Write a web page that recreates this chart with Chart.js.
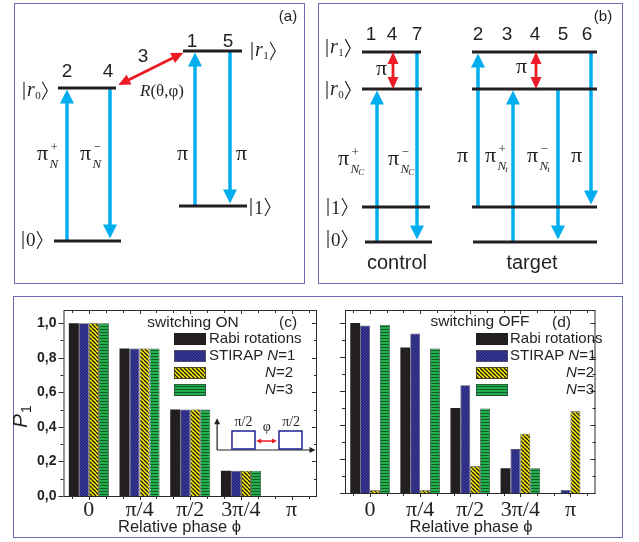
<!DOCTYPE html>
<html><head><meta charset="utf-8">
<script src="https://cdn.jsdelivr.net/npm/chart.js@4.4.0/dist/chart.umd.min.js"></script>
<style>
html,body{margin:0;padding:0;background:#fff;}
#wrap{position:relative;width:639px;height:542px;overflow:hidden;background:#fff;}
canvas{position:absolute;left:0;top:0;}
.box{position:absolute;border:1px solid #6c6cb8;box-sizing:border-box;}
</style></head><body>
<div id="wrap">
<div class="box" style="left:14px;top:3px;width:291px;height:281px"></div>
<div class="box" style="left:318px;top:3px;width:305px;height:281px"></div>
<div class="box" style="left:13px;top:296px;width:610px;height:242px"></div>
<canvas id="ca" width="639" height="542"></canvas>
<canvas id="cb" width="639" height="542"></canvas>
<canvas id="cc" width="639" height="542"></canvas>
<canvas id="cd" width="639" height="542"></canvas>
</div>
<script>
// ================= DATA =================
const phaseLabels = ['0', 'π/4', 'π/2', '3π/4', 'π'];
const seriesNames = ['Rabi rotations', 'STIRAP N=1', 'N=2', 'N=3'];
const yTickValues = [0, 0.2, 0.4, 0.6, 0.8, 1.0];

// (c) switching ON
const onRabi      = [1.00, 0.854, 0.50, 0.146, 0];
const onStirapN1  = [1.00, 0.854, 0.50, 0.146, 0];
const onStirapN2  = [1.00, 0.854, 0.50, 0.146, 0];
const onStirapN3  = [1.00, 0.854, 0.50, 0.146, 0];
// (d) switching OFF
const offRabi     = [1.00, 0.855, 0.50, 0.146, 0];
const offStirapN1 = [0.985, 0.938, 0.634, 0.258, 0.018];
const offStirapN2 = [0.016, 0.016, 0.157, 0.348, 0.48];
const offStirapN3 = [0.99, 0.849, 0.497, 0.146, 0];

// level-scheme "energies"
const E = {g0: 0, g1: 1, r0: 4.37, r1: 5.43};
// (a) levels [x1, x2, energy]
const levelsA = [[44, 102, E.r0], [40, 107, E.g0], [169, 228, E.r1], [165, 233, E.g1]];
const pulsesA = [[53, E.g0, E.r0], [96, E.r0, E.g0], [181, E.g1, E.r1], [216, E.r1, E.g1]];
const rotationA = [[104.3, 4.457, 169.3, 5.38]];
// (b) levels
const levelsB = [[44, 103, E.r1], [44, 104, E.r0], [44, 112, E.g1], [47, 114, E.g0],
                 [154, 279, E.r1], [154, 279, E.r0], [154, 279, E.g1], [155, 279, E.g0]];
const pulsesB = [[59, E.g0, E.r0], [99, E.r1, E.g0], [160, E.g1, E.r1], [195, E.g0, E.r0], [240, E.r0, E.g0], [273, E.r1, E.g1]];
const rotationB = [[75, E.r1, 75, E.r0], [218, E.r1, 218, E.r0]];

// ================= STYLE =================
const INK = '#231f20', CYAN = '#00aeef', RED = '#ed1c24';
const SANS = '"Liberation Sans", Arial, sans-serif';
const SERIF = '"Liberation Serif", "Times New Roman", serif';
Chart.defaults.font.family = SANS;
Chart.defaults.color = INK;

function arrow(ctx, x1, y1, x2, y2, col, w, hl, hw, both) {
  const dx = x2 - x1, dy = y2 - y1, L = Math.hypot(dx, dy), ux = dx / L, uy = dy / L, px = -uy, py = ux;
  const s0 = both ? hl * 0.8 : 0, s1 = L - hl * 0.8;
  ctx.strokeStyle = col; ctx.fillStyle = col; ctx.lineWidth = w; ctx.lineCap = 'butt';
  ctx.beginPath(); ctx.moveTo(x1 + ux * s0, y1 + uy * s0); ctx.lineTo(x1 + ux * s1, y1 + uy * s1); ctx.stroke();
  const head = (tx, ty, vx, vy) => {
    ctx.beginPath(); ctx.moveTo(tx, ty);
    ctx.lineTo(tx - vx * hl + px * hw / 2, ty - vy * hl + py * hw / 2);
    ctx.lineTo(tx - vx * hl - px * hw / 2, ty - vy * hl - py * hw / 2);
    ctx.closePath(); ctx.fill();
  };
  head(x2, y2, ux, uy); if (both) head(x1, y1, -ux, -uy);
}
function drawPi(ctx, x, yc, sup, sub, sub2) {
  ctx.fillStyle = INK; ctx.textAlign = 'left'; ctx.textBaseline = 'alphabetic';
  ctx.font = '22px ' + SERIF; ctx.fillText('π', x, yc + 5);
  const sx = x + ctx.measureText('π').width + 1.5;
  if (sup) { ctx.font = '13px ' + SERIF; ctx.fillText(sup, sx + 1, yc - 4); }
  if (sub) {
    ctx.font = 'italic 13px ' + SERIF; ctx.fillText(sub, sx, yc + 13);
    if (sub2) { const w2 = ctx.measureText(sub).width; ctx.font = 'italic 9px ' + SERIF; ctx.fillText(sub2, sx + w2 - 1, yc + 15); }
  }
}
function drawKet(ctx, x, yc, main, sub) {
  ctx.strokeStyle = INK; ctx.fillStyle = INK; ctx.lineWidth = 1.1; ctx.textAlign = 'left'; ctx.textBaseline = 'alphabetic';
  ctx.beginPath(); ctx.moveTo(x, yc - 9); ctx.lineTo(x, yc + 9); ctx.stroke();
  let cx = x + 3;
  if (sub) {
    ctx.font = 'italic 20px ' + SERIF; ctx.fillText(main, cx, yc + 5); cx += ctx.measureText(main).width + 0.5;
    ctx.font = '11px ' + SERIF; ctx.fillText(sub, cx, yc + 8); cx += ctx.measureText(sub).width + 1.5;
  } else {
    ctx.font = '19px ' + SERIF; ctx.fillText(main, cx, yc + 6.5); cx += ctx.measureText(main).width + 1.5;
  }
  ctx.beginPath(); ctx.moveTo(cx, yc - 9); ctx.lineTo(cx + 5, yc); ctx.lineTo(cx, yc + 9); ctx.stroke();
}
function plainText(ctx, t, x, y, font, align) {
  ctx.fillStyle = INK; ctx.font = font; ctx.textAlign = align || 'center'; ctx.textBaseline = 'middle'; ctx.fillText(t, x, y);
}

// ================= LEVEL SCHEMES =================
function diagram(id, box, yRange, levels, pulses, rots, texts) {
  return new Chart(document.getElementById(id), {
    type: 'scatter',
    data: {datasets: levels.map(l => ({data: [{x: l[0], y: l[2]}, {x: l[1], y: l[2]}], showLine: true,
      borderColor: INK, borderWidth: 3, pointRadius: 0, borderCapStyle: 'butt', clip: false}))},
    options: {
      responsive: false, animation: false, events: [],
      plugins: {legend: {display: false}, tooltip: {enabled: false}},
      layout: {padding: {left: box[0], top: box[1], right: 639 - box[2], bottom: 542 - box[3]}},
      scales: {x: {type: 'linear', display: false, min: 0, max: box[2] - box[0]},
               y: {type: 'linear', display: false, min: yRange[0], max: yRange[1]}}
    },
    plugins: [{
      id: 'scheme',
      beforeDatasetsDraw(chart) {
        const ctx = chart.ctx, X = v => chart.scales.x.getPixelForValue(v), Y = v => chart.scales.y.getPixelForValue(v);
        ctx.save();
        pulses.forEach(p => { const up = p[2] > p[1];
          arrow(ctx, X(p[0]), Y(p[1]), X(p[0]), Y(p[2]) + (up ? 1.5 : -2.5), CYAN, 3.5, 14, 14, false); });
        ctx.restore();
      },
      afterDatasetsDraw(chart) {
        const ctx = chart.ctx, X = v => chart.scales.x.getPixelForValue(v), Y = v => chart.scales.y.getPixelForValue(v);
        ctx.save();
        rots.forEach(r => arrow(ctx, X(r[0]), Y(r[1]), X(r[2]), Y(r[3]), RED, 2.8, 12, 11, true));
        texts(ctx, X, Y);
        ctx.restore();
      }
    }]
  });
}

diagram('ca', [14, 3, 304, 283], [-1.2, 6.8], levelsA, pulsesA, rotationA, (ctx, X, Y) => {
  const nf = '19px ' + SANS;
  [['2', 53, 4.83], ['4', 94, 4.83], ['1', 178, 5.69], ['5', 214, 5.69], ['3', 129, 5.26]]
    .forEach(n => plainText(ctx, n[0], X(n[1]), Y(n[2]), nf));
  plainText(ctx, '(a)', X(274), Y(6.4), '15px ' + SANS);
  drawKet(ctx, X(10), Y(4.29), 'r', '0');
  drawKet(ctx, X(238), Y(5.43), 'r', '1');
  drawKet(ctx, X(9), Y(0.03), '0');
  drawKet(ctx, X(237), Y(0.97), '1');
  drawPi(ctx, X(23), Y(2.46), '+', 'N');
  drawPi(ctx, X(66), Y(2.46), '−', 'N');
  drawPi(ctx, X(163), Y(2.46));
  drawPi(ctx, X(222), Y(2.46));
  ctx.fillStyle = INK; ctx.textAlign = 'left'; ctx.textBaseline = 'alphabetic';
  ctx.font = 'italic 17px ' + SERIF; ctx.fillText('R', X(126), Y(4.31) + 6);
  const w = ctx.measureText('R').width; ctx.font = '17px ' + SERIF; ctx.fillText('(θ,φ)', X(126) + w, Y(4.31) + 6);
});

diagram('cb', [318, 3, 622, 283], [-1.171, 6.829], levelsB, pulsesB, rotationB, (ctx, X, Y) => {
  const nf = '19px ' + SANS;
  [['1', 53], ['4', 74], ['7', 99], ['2', 160], ['3', 189], ['4', 217], ['5', 245], ['6', 269]]
    .forEach(n => plainText(ctx, n[0], X(n[1]), Y(5.91), nf));
  plainText(ctx, '(b)', X(285), Y(6.43), '15px ' + SANS);
  drawKet(ctx, X(9), Y(5.54), 'r', '1');
  drawKet(ctx, X(9), Y(4.34), 'r', '0');
  drawKet(ctx, X(10), Y(1.0), '1');
  drawKet(ctx, X(10), Y(0.086), '0');
  drawPi(ctx, X(58), Y(4.91));
  drawPi(ctx, X(198), Y(4.97));
  drawPi(ctx, X(20), Y(2.34), '+', 'N', 'C');
  drawPi(ctx, X(70), Y(2.34), '−', 'N', 'C');
  drawPi(ctx, X(139), Y(2.43));
  drawPi(ctx, X(167), Y(2.43), '+', 'N', 't');
  drawPi(ctx, X(209), Y(2.43), '−', 'N', 't');
  drawPi(ctx, X(253), Y(2.43));
  plainText(ctx, 'control', X(79), Y(-0.6), '20px ' + SANS);
  plainText(ctx, 'target', X(214), Y(-0.6), '20px ' + SANS);
});

// ================= BAR CHARTS =================
function makePatterns(ctx) {
  function hatch(bg, fg, p, lw, dir) {
    const c = document.createElement('canvas'); c.width = c.height = p;
    const g = c.getContext('2d'); g.fillStyle = bg; g.fillRect(0, 0, p, p);
    g.strokeStyle = fg; g.lineWidth = lw; g.beginPath();
    if (dir === 'h') { g.moveTo(0, p - lw / 2); g.lineTo(p, p - lw / 2); }
    else if (dir === 'f') { for (const o of [-p, 0, p]) { g.moveTo(o, p); g.lineTo(o + p, 0); } }
    else { for (const o of [-p, 0, p]) { g.moveTo(o, 0); g.lineTo(o + p, p); } }
    g.stroke();
    return ctx.createPattern(c, 'repeat');
  }
  return {
    black: '#231f20',
    blue: hatch('#26267a', '#4848a6', 3, 0.9, 'f'),
    yellow: hatch('#f8ea00', '#1a1a1a', 4, 1.3, 'b'),
    green: hatch('#22b04c', '#125a28', 3, 1, 'h')
  };
}

function barChart(id, area, values, cfg) {
  const canvas = document.getElementById(id);
  const pats = makePatterns(canvas.getContext('2d'));
  const fills = [pats.black, pats.blue, pats.yellow, pats.green];
  const borders = ['#231f20', '#555566', '#3a3a20', '#2d4a35'];
  return new Chart(canvas, {
    type: 'bar',
    data: {labels: phaseLabels, datasets: values.map((v, i) => ({
      label: seriesNames[i], data: v, backgroundColor: fills[i], borderColor: borders[i],
      borderWidth: c => (i >= 1 && c.raw > 0) ? 0.8 : 0, borderSkipped: 'start',
      barPercentage: 1.0, categoryPercentage: 0.79}))},
    options: {
      responsive: false, animation: false, events: [],
      plugins: {legend: {display: false}, tooltip: {enabled: false}},
      layout: {padding: {left: 0, top: area.top, right: 639 - area.right, bottom: 0}},
      scales: {
        x: {type: 'category', offset: true, grid: {display: false, drawTicks: false}, border: {display: false},
            ticks: {font: {family: SERIF, size: 22}, color: INK, padding: cfg.xPad, maxRotation: 0, autoSkip: false},
            afterFit: s => { s.height = 542 - area.bottom; }},
        y: {min: 0, max: 1.076, grid: {display: false, drawTicks: false}, border: {display: false},
            afterBuildTicks: s => { s.ticks = yTickValues.map(v => ({value: v})); },
            ticks: {display: cfg.yLabels, font: {family: SANS, size: 14, weight: 'bold'}, color: INK, padding: 7,
                    callback: v => Number(v).toFixed(1).replace('.', ',')},
            afterFit: s => { s.width = area.left; }}
      }
    },
    plugins: [{
      id: 'frame',
      afterDraw(chart) {
        const ctx = chart.ctx, a = chart.chartArea, xs = chart.scales.x, ys = chart.scales.y;
        ctx.save();
        ctx.strokeStyle = '#2a2a2a'; ctx.lineWidth = 1;
        ctx.strokeRect(a.left + 0.5, a.top + 0.5, a.right - a.left - 1, a.bottom - a.top);
        ctx.beginPath();
        for (let k = -1; k <= 13; k++) {
          const px = Math.round(xs.getPixelForValue(k / 3)) + 0.5;
          if (px <= a.left + 1 || px >= a.right - 1) continue;
          const L = (k % 3 === 0) ? 4 : 3;
          ctx.moveTo(px, a.top); ctx.lineTo(px, a.top + L);
          ctx.moveTo(px, a.bottom); ctx.lineTo(px, a.bottom + L);
        }
        for (let k = 0; k <= 10; k++) {
          const py = Math.round(ys.getPixelForValue(k / 10)) + 0.5;
          const L = (k % 2 === 0) ? 5 : 3;
          ctx.moveTo(a.left, py); ctx.lineTo(a.left - L, py);
          ctx.moveTo(a.right, py); ctx.lineTo(a.right - L, py);
        }
        ctx.stroke();
        // heading + panel tag
        plainText(ctx, cfg.heading[0], cfg.heading[1], cfg.heading[2], '15.5px ' + SANS);
        plainText(ctx, cfg.tag[0], cfg.tag[1], cfg.tag[2], '15.5px ' + SANS);
        // legend
        const L = cfg.legend;
        chart.data.datasets.forEach((ds, i) => {
          const yc = L.y0 + i * L.dy;
          ctx.fillStyle = ds.backgroundColor; ctx.fillRect(L.sx, yc - 6, 32, 12);
          if (i >= 1) { ctx.strokeStyle = ds.borderColor; ctx.lineWidth = 0.8; ctx.strokeRect(L.sx + 0.4, yc - 5.6, 31.2, 11.2); }
          const segs = ds.label.split(/(N)/).filter(s => s.length);
          let tw = 0; segs.forEach(s => { ctx.font = (s === 'N' ? 'italic ' : '') + '15px ' + SANS; tw += ctx.measureText(s).width; });
          let x = ds.label.startsWith('N') ? L.rightEnd - tw : L.tx;
          ctx.fillStyle = INK; ctx.textAlign = 'left'; ctx.textBaseline = 'middle';
          segs.forEach(s => { ctx.font = (s === 'N' ? 'italic ' : '') + '15px ' + SANS; ctx.fillText(s, x, yc); x += ctx.measureText(s).width; });
        });
        // axis title
        plainText(ctx, 'Relative phase ϕ', cfg.xTitle[0], cfg.xTitle[1], '16.5px ' + SANS);
        if (cfg.yTitle) {
          ctx.save(); ctx.translate(cfg.yTitle[0], cfg.yTitle[1]); ctx.rotate(-Math.PI / 2);
          ctx.fillStyle = INK; ctx.textAlign = 'left'; ctx.textBaseline = 'alphabetic';
          ctx.font = 'italic 21px ' + SANS; ctx.fillText('P', 0, 0);
          const w = ctx.measureText('P').width; ctx.font = '14px ' + SANS; ctx.fillText('1', w + 1, 4);
          ctx.restore();
        }
        if (cfg.inset) cfg.inset(ctx, v => xs.getPixelForValue(v), v => ys.getPixelForValue(v));
        ctx.restore();
      }
    }]
  });
}

barChart('cc', {left: 63.5, right: 317, top: 310, bottom: 496},
  [onRabi, onStirapN1, onStirapN2, onStirapN3], {
    yLabels: true, xPad: 1,
    heading: ['switching ON', 193, 323], tag: ['(c)', 288, 323],
    legend: {sx: 174, tx: 209, y0: 339, dy: 17, rightEnd: 293},
    xTitle: [179.5, 527], yTitle: [27, 428],
    inset: (ctx, X, Y) => {
      // pulse-sequence sketch in data units of the chart
      ctx.strokeStyle = INK; ctx.fillStyle = INK;
      arrow(ctx, X(2.53), Y(0.266), X(2.53), Y(0.45), INK, 1.2, 6, 6, false);
      arrow(ctx, X(2.53), Y(0.266), X(4.47), Y(0.266), INK, 1.2, 6, 6, false);
      ctx.strokeStyle = '#2b2f96'; ctx.lineWidth = 1.6;
      [[2.823, 3.277], [3.75, 4.204]].forEach(p => ctx.strokeRect(X(p[0]), Y(0.376), X(p[1]) - X(p[0]), Y(0.272) - Y(0.376)));
      arrow(ctx, X(3.30), Y(0.318), X(3.71), Y(0.318), RED, 1.5, 5, 5, true);
      plainText(ctx, 'π/2', X(3.05), Y(0.428), '14px ' + SERIF);
      plainText(ctx, 'π/2', X(3.99), Y(0.428), '14px ' + SERIF);
      plainText(ctx, 'φ', X(3.51), Y(0.395), '14px ' + SERIF);
    }
  });

barChart('cd', {left: 345, right: 595.5, top: 310, bottom: 493},
  [offRabi, offStirapN1, offStirapN2, offStirapN3], {
    yLabels: false, xPad: 4,
    heading: ['switching OFF', 480, 322], tag: ['(d)', 561.5, 323],
    legend: {sx: 476, tx: 510, y0: 339, dy: 17, rightEnd: 594},
    xTitle: [471, 527], yTitle: null, inset: null
  });
</script>
</body></html>
